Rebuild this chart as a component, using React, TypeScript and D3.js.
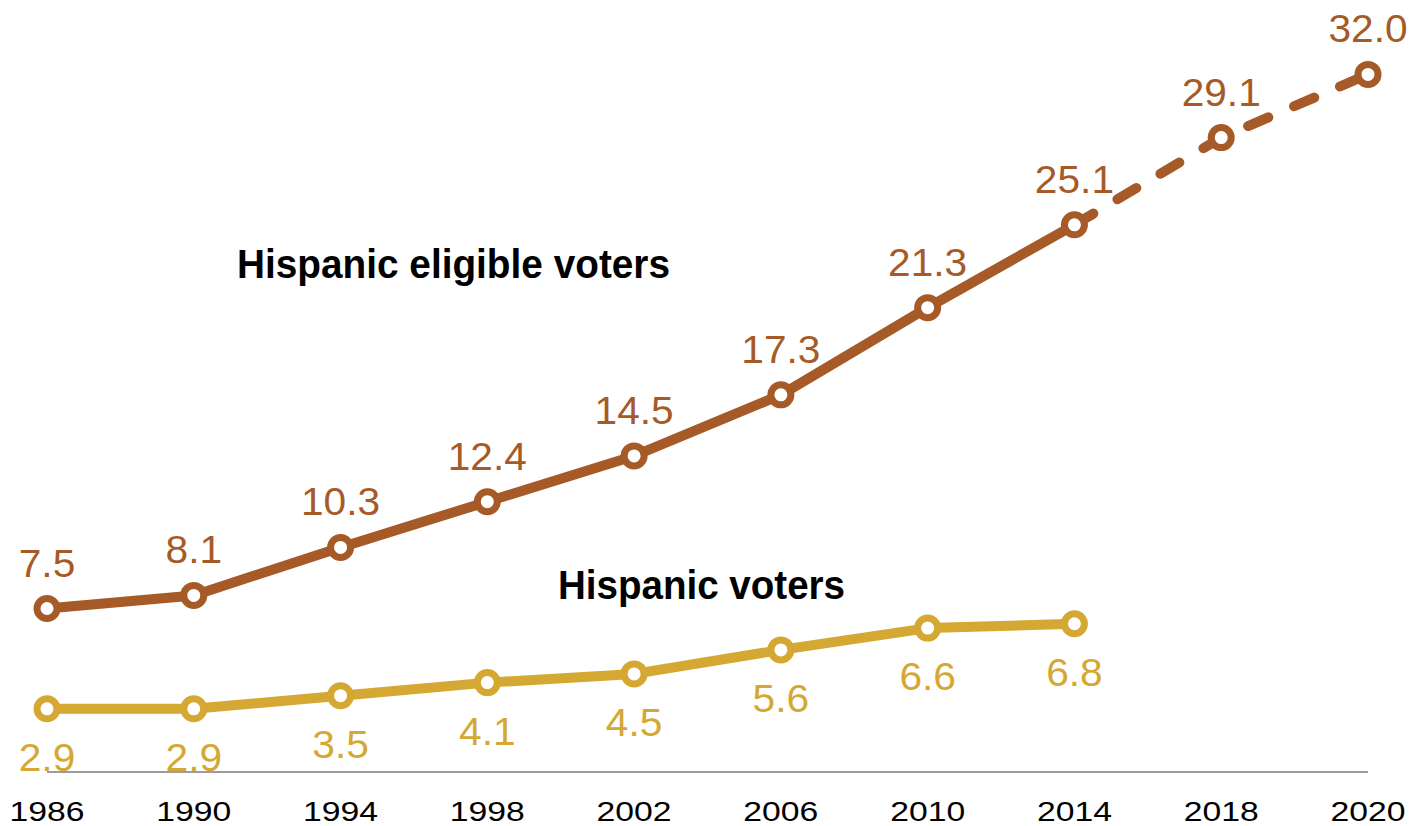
import React from "react";
import * as d3 from "d3";

const years = ["1986", "1990", "1994", "1998", "2002", "2006", "2010", "2014", "2018", "2020"];
const eligibleVoters = [7.5, 8.1, 10.3, 12.4, 14.5, 17.3, 21.3, 25.1, 29.1, 32.0];
const voters = [2.9, 2.9, 3.5, 4.1, 4.5, 5.6, 6.6, 6.8];
const projectedFrom = "2014";

const BROWN = "#A65A27";
const GOLD = "#D4A833";
const W = 1414;
const H = 826;
const FONT = "'Liberation Sans', Arial, sans-serif";

// approximate wide-digit label width (Franklin Gothic-like) from Arial metrics
function labelWidth(s: string, size: number, factor: number) {
  let w = 0;
  for (const ch of s) w += ch === "." ? 0.278 : 0.556;
  return w * size * factor;
}

export default function App() {
  const x = d3.scalePoint<string>().domain(years).range([47, 1368]);
  const y = d3.scaleLinear().domain([0, 32]).range([772, 74.4]);

  const line = d3
    .line<[string, number]>()
    .x((d) => x(d[0]) as number)
    .y((d) => y(d[1]));

  const elig: [string, number][] = years.map((yr, i) => [yr, eligibleVoters[i]]);
  const vot: [string, number][] = voters.map((v, i) => [years[i], v]);
  const splitIdx = years.indexOf(projectedFrom);
  const eligSolid = elig.slice(0, splitIdx + 1);
  const eligDashed = elig.slice(splitIdx);

  const valSize = 38;
  const valFactor = 1.07;

  return (
    <svg
      width={W}
      height={H}
      style={{ position: "absolute", left: 0, top: 0, display: "block", background: "#fff" }}
    >
      <line
        x1={x(years[0])}
        x2={x(years[years.length - 1])}
        y1={y(0)}
        y2={y(0)}
        stroke="#9c9c9c"
        strokeWidth={2}
      />
      {years.map((yr) => (
        <text
          key={yr}
          x={x(yr)}
          y={821}
          textAnchor="middle"
          fontFamily={FONT}
          fontSize={28.5}
          textLength={75}
          lengthAdjust="spacingAndGlyphs"
          fill="#000"
        >
          {yr}
        </text>
      ))}

      <path d={line(vot) || ""} fill="none" stroke={GOLD} strokeWidth={10} strokeLinejoin="round" />
      <path d={line(eligSolid) || ""} fill="none" stroke={BROWN} strokeWidth={10} strokeLinejoin="round" />
      <path
        d={line(eligDashed) || ""}
        fill="none"
        stroke={BROWN}
        strokeWidth={10}
        strokeLinecap="round"
        strokeDasharray="22 28"
      />

      {vot.map((d) => (
        <circle key={"v" + d[0]} cx={x(d[0])} cy={y(d[1])} r={10} fill="#fff" stroke={GOLD} strokeWidth={7} />
      ))}
      {elig.map((d) => (
        <circle key={"e" + d[0]} cx={x(d[0])} cy={y(d[1])} r={10} fill="#fff" stroke={BROWN} strokeWidth={7} />
      ))}

      {elig.map((d) => {
        const s = d[1].toFixed(1);
        return (
          <text
            key={"el" + d[0]}
            x={x(d[0])}
            y={y(d[1]) - 32}
            textAnchor="middle"
            fontFamily={FONT}
            fontSize={valSize}
            textLength={labelWidth(s, valSize, valFactor)}
            lengthAdjust="spacingAndGlyphs"
            fill={BROWN}
          >
            {s}
          </text>
        );
      })}
      {vot.map((d) => {
        const s = d[1].toFixed(1);
        return (
          <text
            key={"vl" + d[0]}
            x={x(d[0])}
            y={y(d[1]) + 62}
            textAnchor="middle"
            fontFamily={FONT}
            fontSize={valSize}
            textLength={labelWidth(s, valSize, valFactor)}
            lengthAdjust="spacingAndGlyphs"
            fill={GOLD}
          >
            {s}
          </text>
        );
      })}

      <text
        x={237}
        y={278}
        fontFamily={FONT}
        fontWeight="bold"
        fontSize={40}
        textLength={433}
        lengthAdjust="spacingAndGlyphs"
        fill="#000"
      >
        Hispanic eligible voters
      </text>
      <text
        x={558}
        y={599}
        fontFamily={FONT}
        fontWeight="bold"
        fontSize={40}
        textLength={287}
        lengthAdjust="spacingAndGlyphs"
        fill="#000"
      >
        Hispanic voters
      </text>
    </svg>
  );
}
